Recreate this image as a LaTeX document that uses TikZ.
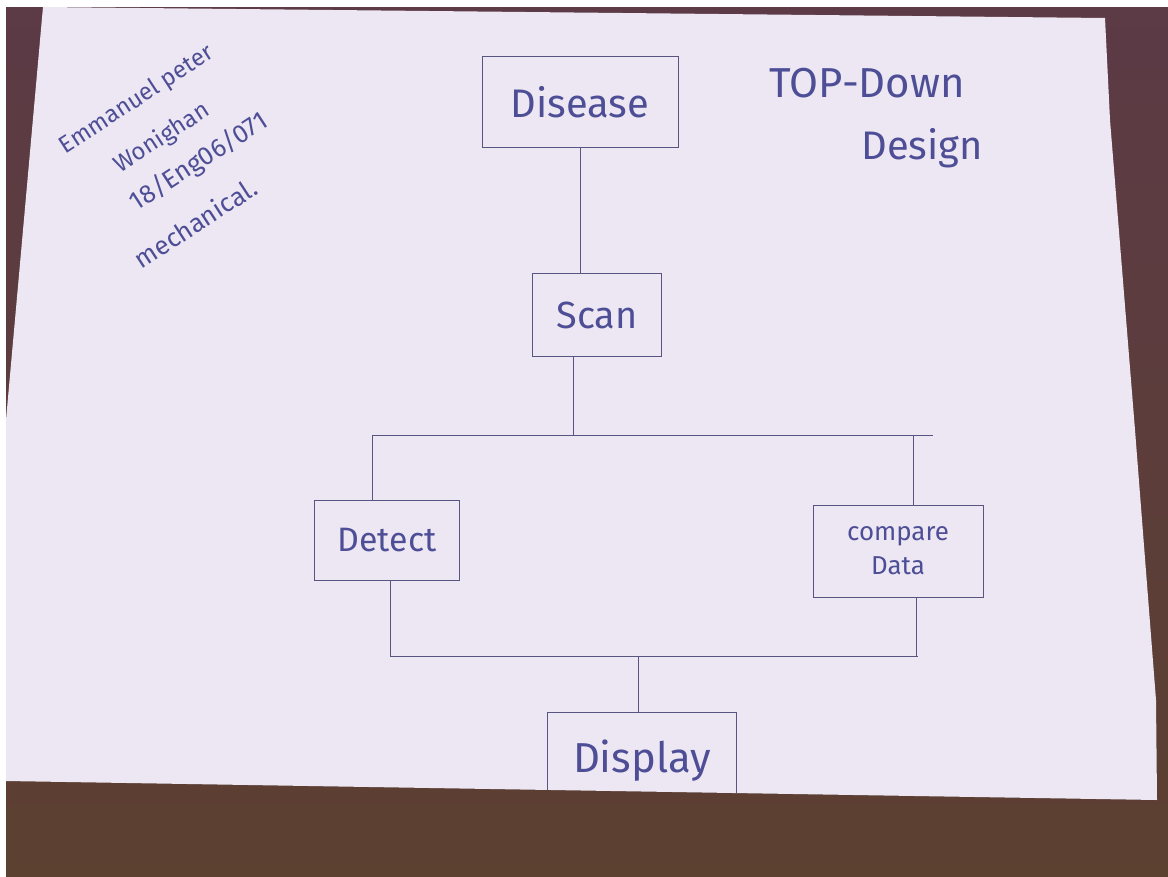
\documentclass[tikz,border=0pt]{standalone}
\usepackage{fontspec}
\setmainfont{Fira Sans}
\usepackage{tikz}
\definecolor{woodtop}{RGB}{92,58,70}
\definecolor{woodlow}{RGB}{92,64,48}
\definecolor{paper}{RGB}{236,231,243}
\definecolor{ink}{RGB}{78,78,150}
\definecolor{pencil}{RGB}{88,86,128}
\tikzset{
  chart/.style={draw=pencil,line width=0.7pt,inner sep=0pt,text=ink,align=center},
  wire/.style={pencil,line width=0.7pt},
  scrawl/.style={text=ink,inner sep=0pt,rotate=33}
}

\begin{document}
\begin{tikzpicture}

\useasboundingbox (0bp,0bp) rectangle (1168bp,-877bp);
\shade[top color=woodtop,bottom color=woodlow] (6bp,-7bp) rectangle (1168bp,-877bp);

\begin{scope}
\clip (43bp,-7bp) -- (1105bp,-18bp) -- (1110bp,-120bp) -- (1135bp,-430bp) -- (1156bp,-700bp) -- (1157bp,-800bp) -- (6bp,-781bp) -- (6bp,-420bp) -- cycle;
\fill[paper] (0bp,0bp) rectangle (1168bp,-877bp);

\node (disease) at (580bp,-102bp)[chart,minimum width=196bp,minimum height=91bp,font=\fontsize{40}{40}\selectfont] {Disease};
\node (scan) at (597bp,-315bp)[chart,minimum width=129bp,minimum height=83bp,font=\fontsize{38}{38}\selectfont] {Scan};
\node (detect) at (387bp,-540bp)[chart,minimum width=145bp,minimum height=80bp,font=\fontsize{34}{34}\selectfont] {Detect};
\node (compare) at (898bp,-551bp)[chart,minimum width=170bp,minimum height=92bp,font=\fontsize{26}{34}\selectfont] {compare\\Data};
\node (display) at (642bp,-761bp)[chart,minimum width=189bp,minimum height=98bp,font=\fontsize{42}{42}\selectfont] {Display};

\coordinate (split) at (573bp,-435bp);
\coordinate (busL) at (372bp,-435bp);
\coordinate (busR) at (913bp,-435bp);
\coordinate (busEnd) at (933bp,-435bp);
\coordinate (joinL) at (390bp,-656bp);
\coordinate (joinR) at (916bp,-656bp);
\coordinate (joinEnd) at (918bp,-656bp);
\coordinate (merge) at (638bp,-656bp);

\draw [wire] (disease.south) to (disease.south |- scan.north);
\draw [wire] (split |- scan.south) to (split);
\draw [wire] (busL) to (busEnd);
\draw [wire] (busL) to (busL |- detect.north);
\draw [wire] (busR) to (busR |- compare.north);
\draw [wire] (joinL |- detect.south) to (joinL);
\draw [wire] (joinR |- compare.south) to (joinR);
\draw [wire] (joinL) to (joinEnd);
\draw [wire] (merge) to (merge |- display.north);

\node (topdown) at (867bp,-83bp)[text=ink,font=\fontsize{42}{42}\selectfont] {TOP-Down};
\node (design) at (922bp,-148bp)[text=ink,font=\fontsize{40}{40}\selectfont] {Design};

\node (name) at (137bp,-100bp)[scrawl,font=\fontsize{24}{24}\selectfont] {Emmanuel peter};
\node (surname) at (162bp,-138bp)[scrawl,font=\fontsize{24}{24}\selectfont] {Wonighan};
\node (regno) at (199bp,-162bp)[scrawl,font=\fontsize{26}{26}\selectfont] {18/Eng06/071};
\node (dept) at (195bp,-223bp)[scrawl,font=\fontsize{26}{26}\selectfont] {mechanical.};
\end{scope}

\end{tikzpicture}
\end{document}
